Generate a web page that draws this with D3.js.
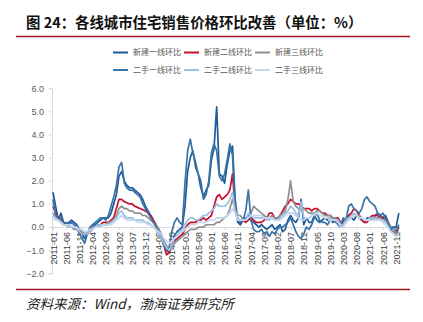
<!DOCTYPE html>
<html><head><meta charset="utf-8">
<script src="https://cdn.jsdelivr.net/npm/d3@7"></script>
<style>
body{margin:0;background:#fff;}
svg{display:block;}
</style></head><body>
<svg id="chart" width="423" height="322"></svg>
<script>
// Monthly categories, 2011-01 .. 2021-12
const months = d3.timeMonth.range(new Date(2011, 0, 1), new Date(2022, 0, 1)).map(d3.timeFormat("%Y-%m"));

// Month-on-month price change (%), one value per month
const newTier1 = [
  1.5, 0.9, 0.3, 0.6, 0.2, 0.1, 0.2, 0.3, 0.2, 0.1, -0.1, -0.3,
  -0.5, -0.2, -0.1, 0.0, 0.1, 0.2, 0.3, 0.4, 0.4, 0.4, 0.6, 1.0,
  1.4, 2.2, 2.4, 2.0, 1.8, 1.7, 1.7, 1.6, 1.5, 1.4, 1.2, 0.9,
  0.7, 0.5, 0.3, 0.1, -0.1, -0.3, -0.7, -1.0, -1.1, -0.8, -0.4, -0.2,
  -0.1, 0.0, 0.9, 2.4, 3.0, 3.3, 2.6, 2.3, 1.7, 1.3, 1.6, 1.8,
  2.9, 3.4, 5.2, 2.3, 2.2, 1.9, 2.7, 3.3, 3.5, 1.2, 0.2, 0.1,
  0.3, 0.4, 0.5, 0.3, 0.2, 0.1, 0.0, 0.1, 0.0, -0.1, 0.0, 0.1,
  -0.1, 0.0, 0.1, -0.2, -0.1, 0.3, 0.5, 0.3, 0.2, 0.4, 1.2, 0.1,
  0.4, 0.2, 0.2, 0.5, 0.3, 0.2, 0.3, 0.4, 0.3, 0.4, 0.2, 0.3,
  0.1, 0.0, 0.3, 0.2, 0.5, 0.4, 0.3, 0.5, 0.4, 0.3, 0.2, 0.4,
  0.4, 0.3, 0.5, 0.6, 0.5, 0.4, 0.5, 0.2, 0.0, 0.0, 0.0, 0.6
];
const newTier2 = [
  0.9, 0.6, 0.4, 0.3, 0.2, 0.1, 0.1, 0.0, 0.0, -0.1, -0.2, -0.3,
  -0.3, -0.3, -0.2, -0.1, 0.0, 0.1, 0.1, 0.2, 0.2, 0.2, 0.3, 0.4,
  0.8, 1.2, 1.2, 1.1, 1.05, 1.0, 1.0, 0.9, 0.85, 0.8, 0.75, 0.7,
  0.6, 0.5, 0.3, 0.1, -0.1, -0.4, -0.8, -1.2, -1.1, -0.8, -0.6, -0.5,
  -0.4, -0.3, -0.1, 0.1, 0.2, 0.2, 0.2, 0.3, 0.3, 0.4, 0.3, 0.4,
  0.5, 0.9, 1.3, 1.4, 1.2, 1.3, 1.4, 1.6, 2.3, 0.8, 0.3, 0.2,
  0.3, 0.2, 0.3, 0.4, 0.3, 0.2, 0.2, 0.2, 0.3, 0.4, 0.6, 0.6,
  0.4, 0.3, 0.5, 0.7, 0.9, 1.0, 1.2, 1.1, 1.0, 1.0, 0.9, 0.8,
  0.8, 0.8, 0.7, 0.8, 0.8, 0.7, 0.6, 0.6, 0.5, 0.5, 0.4, 0.4,
  0.4, 0.2, 0.1, 0.3, 0.5, 0.6, 0.8, 0.7, 0.5, 0.3, 0.2, 0.2,
  0.4, 0.5, 0.5, 0.5, 0.4, 0.4, 0.3, 0.2, -0.1, -0.2, -0.3, 0.0
];
const newTier3 = [
  0.6, 0.5, 0.3, 0.2, 0.1, 0.1, 0.0, 0.0, -0.1, -0.1, -0.2, -0.2,
  -0.3, -0.2, -0.1, 0.0, 0.0, 0.0, 0.1, 0.1, 0.1, 0.2, 0.2, 0.3,
  0.5, 0.8, 0.9, 0.8, 0.8, 0.7, 0.7, 0.6, 0.6, 0.6, 0.5, 0.5,
  0.4, 0.3, 0.2, 0.1, -0.1, -0.3, -0.6, -0.8, -1.0, -0.9, -0.7, -0.6,
  -0.5, -0.4, -0.3, -0.2, -0.1, -0.1, -0.1, 0.0, 0.0, 0.0, 0.1, 0.1,
  0.1, 0.1, 0.2, 0.2, 0.3, 0.4, 0.5, 0.8, 1.2, 0.8, 0.5, 0.5,
  0.3, 0.3, 0.4, 0.6, 0.9, 0.8, 0.7, 0.6, 0.5, 0.4, 0.4, 0.5,
  0.4, 0.4, 0.5, 0.6, 0.7, 1.2, 2.0, 1.1, 0.9, 0.8, 0.8, 0.8,
  0.7, 0.6, 0.6, 0.6, 0.7, 0.7, 0.6, 0.5, 0.5, 0.5, 0.4, 0.4,
  0.3, 0.1, 0.1, 0.3, 0.4, 0.4, 0.5, 0.5, 0.5, 0.4, 0.3, 0.3,
  0.3, 0.3, 0.4, 0.4, 0.4, 0.3, 0.3, 0.2, 0.0, -0.2, -0.3, -0.2
];
const usedTier1 = [
  1.2, 0.5, 0.3, 0.4, 0.1, 0.2, 0.1, 0.2, 0.1, 0.0, -0.3, -0.5,
  -0.7, -0.3, 0.0, 0.1, 0.2, 0.3, 0.4, 0.4, 0.3, 0.5, 0.9, 1.3,
  1.8, 2.6, 2.8, 1.9, 1.7, 1.6, 1.6, 1.5, 1.4, 1.3, 1.0, 0.8,
  0.6, 0.4, 0.2, 0.0, -0.2, -0.5, -0.8, -1.0, -0.9, -0.2, 0.2, 0.4,
  0.2, 0.1, 1.9, 3.3, 3.8, 3.2, 2.8, 2.3, 2.0, 1.2, 1.4, 2.0,
  3.2, 3.6, 3.3, 2.2, 2.0, 2.3, 2.9, 3.6, 3.1, 0.8, 0.3, 0.2,
  0.3, 0.7, 1.6, 0.3, -0.1, -0.2, -0.2, -0.1, -0.3, -0.2, -0.4, -0.2,
  -0.3, -0.1, 0.0, 0.0, 0.1, 0.2, 0.4, 0.1, -0.2, -0.4, -0.5, -0.3,
  0.0, -0.1, 0.1, 0.4, 0.6, 0.3, 0.2, 0.2, 0.1, 0.3, 0.3, 0.2,
  0.2, 0.1, 0.4, 0.3, 0.9, 1.0, 0.8, 0.7, 0.6, 0.8, 1.2, 1.3,
  1.1, 1.0, 0.9, 0.6, 0.5, 0.6, 0.4, 0.1, -0.1, 0.0, -0.2, 0.1
];
const usedTier2 = [
  0.5, 0.4, 0.3, 0.2, 0.1, 0.1, 0.0, 0.0, 0.0, -0.1, -0.2, -0.3,
  -0.3, -0.3, -0.2, -0.1, 0.0, 0.1, 0.1, 0.1, 0.1, 0.1, 0.2, 0.3,
  0.4, 0.6, 0.7, 0.5, 0.4, 0.4, 0.4, 0.3, 0.3, 0.3, 0.3, 0.2,
  0.2, 0.1, 0.0, -0.1, -0.3, -0.5, -0.7, -0.9, -1.0, -0.8, -0.5, -0.3,
  -0.2, -0.1, 0.1, 0.3, 0.4, 0.4, 0.3, 0.3, 0.4, 0.5, 0.5, 0.6,
  0.7, 0.8, 1.0, 0.9, 0.9, 0.9, 1.0, 1.2, 1.5, 0.7, 0.4, 0.3,
  0.3, 0.3, 0.6, 0.5, 0.4, 0.4, 0.4, 0.4, 0.4, 0.3, 0.3, 0.4,
  0.3, 0.3, 0.4, 0.5, 0.6, 0.7, 0.9, 0.8, 0.6, 0.5, 1.1, 0.4,
  0.4, 0.4, 0.5, 0.6, 0.6, 0.5, 0.5, 0.4, 0.4, 0.4, 0.3, 0.3,
  0.3, 0.1, 0.1, 0.3, 0.4, 0.5, 0.6, 0.5, 0.4, 0.4, 0.3, 0.3,
  0.4, 0.4, 0.4, 0.3, 0.3, 0.3, 0.2, 0.0, -0.2, -0.3, -0.4, -0.3
];
const usedTier3 = [
  0.4, 0.3, 0.3, 0.2, 0.1, 0.1, 0.1, 0.0, 0.0, 0.0, -0.1, -0.1,
  -0.2, -0.2, -0.1, -0.1, 0.0, 0.0, 0.0, 0.1, 0.1, 0.1, 0.1, 0.2,
  0.3, 0.4, 0.5, 0.4, 0.3, 0.3, 0.3, 0.3, 0.2, 0.2, 0.2, 0.2,
  0.1, 0.1, 0.0, -0.1, -0.2, -0.3, -0.5, -0.6, -0.7, -0.6, -0.5, -0.4,
  -0.3, -0.2, -0.1, 0.0, 0.1, 0.1, 0.1, 0.2, 0.2, 0.2, 0.2, 0.3,
  0.3, 0.3, 0.4, 0.4, 0.4, 0.4, 0.5, 0.6, 0.8, 0.6, 0.3, 0.3,
  0.3, 0.3, 0.4, 0.5, 0.5, 0.5, 0.5, 0.5, 0.4, 0.4, 0.4, 0.4,
  0.3, 0.3, 0.3, 0.4, 0.5, 0.6, 0.6, 0.6, 0.5, 0.4, 0.3, 0.3,
  0.4, 0.4, 0.5, 0.5, 0.6, 0.5, 0.5, 0.4, 0.4, 0.3, 0.3, 0.3,
  0.2, 0.0, 0.0, 0.2, 0.3, 0.4, 0.5, 0.5, 0.4, 0.4, 0.3, 0.3,
  0.3, 0.3, 0.3, 0.3, 0.3, 0.2, 0.1, 0.0, -0.2, -0.3, -0.4, -0.3
];

const seriesNames = ["新建一线环比", "新建二线环比", "新建三线环比", "二手一线环比", "二手二线环比", "二手三线环比"];
const seriesValues = [newTier1, newTier2, newTier3, usedTier1, usedTier2, usedTier3];
const seriesColors = ["#1D5A99", "#C8102E", "#8F8F8F", "#3A73A6", "#9CC0E4", "#C4D7EF"];
const yTicks = [-2, -1, 0, 1, 2, 3, 4, 5, 6];
const xTickLabels = months.filter((m, i) => i % 5 === 0);

const titleText = "图 24：各线城市住宅销售价格环比改善（单位：%）";
const sourceText = "资料来源：Wind，渤海证券研究所";

const svg = d3.select("#chart");
const cjk = "'Noto Sans CJK SC', 'Noto Sans', sans-serif";
const latin = "'Liberation Sans', Arial, sans-serif";

// Title and rules
svg.append("text").attr("x", 26).attr("y", 28)
  .attr("font-family", cjk).attr("font-weight", 700).attr("font-size", 14.4)
  .attr("fill", "#111").text(titleText);
svg.append("line").attr("x1", 16).attr("x2", 410).attr("y1", 36.5).attr("y2", 36.5)
  .attr("stroke", "#A31621").attr("stroke-width", 1.6);
svg.append("line").attr("x1", 16).attr("x2", 410).attr("y1", 289.5).attr("y2", 289.5)
  .attr("stroke", "#A31621").attr("stroke-width", 1.6);
svg.append("text").attr("x", 26).attr("y", 309)
  .attr("font-family", cjk).attr("font-style", "italic").attr("font-size", 13.5)
  .attr("fill", "#222").text(sourceText);

// Scales
const x = d3.scalePoint().domain(months).range([53, 398.8]);
const y = d3.scaleLinear().domain([-2, 6]).range([273.3, 88.3]);

// Y axis
const yAxis = svg.append("g").attr("transform", "translate(52,0)")
  .call(d3.axisLeft(y).tickValues(yTicks).tickFormat(d3.format(".1f")).tickSize(3).tickPadding(5));
yAxis.select(".domain").attr("stroke", "#D9D9D9");
yAxis.selectAll(".tick line").attr("stroke", "#D9D9D9");
yAxis.selectAll("text").attr("font-family", latin).attr("font-size", 9).attr("fill", "#595959");

// X axis at zero
const xAxis = svg.append("g").attr("transform", `translate(0,${y(0)})`)
  .call(d3.axisBottom(x).tickValues(xTickLabels).tickSize(3).tickPadding(2).tickSizeOuter(0));
xAxis.select(".domain").attr("stroke", "#D9D9D9");
xAxis.selectAll(".tick line").attr("stroke", "#D9D9D9");
xAxis.selectAll("text")
  .attr("font-family", latin).attr("font-size", 9).attr("fill", "#404040")
  .attr("text-anchor", "end").attr("transform", "rotate(-90)")
  .attr("x", -5).attr("y", 0).attr("dy", "0.35em");

// Lines
const line = d3.line().x((d, i) => x(months[i])).y(d => y(d));
const plot = svg.append("g");
seriesValues.forEach((vals, k) => {
  plot.append("path").datum(vals)
    .attr("fill", "none").attr("stroke", seriesColors[k])
    .attr("stroke-width", 1.7).attr("stroke-linejoin", "round")
    .attr("d", line);
});

// Legend
const legend = svg.append("g");
const legendX = [113, 184, 255];
const legendY = [52.5, 70];
seriesNames.forEach((name, k) => {
  const lx = legendX[k % 3], ly = legendY[Math.floor(k / 3)];
  legend.append("line").attr("x1", lx).attr("x2", lx + 15).attr("y1", ly).attr("y2", ly)
    .attr("stroke", seriesColors[k]).attr("stroke-width", 2);
  legend.append("text").attr("x", lx + 20).attr("y", ly).attr("dy", "0.35em")
    .attr("font-family", cjk).attr("font-size", 8).attr("fill", "#595959").text(name);
});
</script>
</body></html>
